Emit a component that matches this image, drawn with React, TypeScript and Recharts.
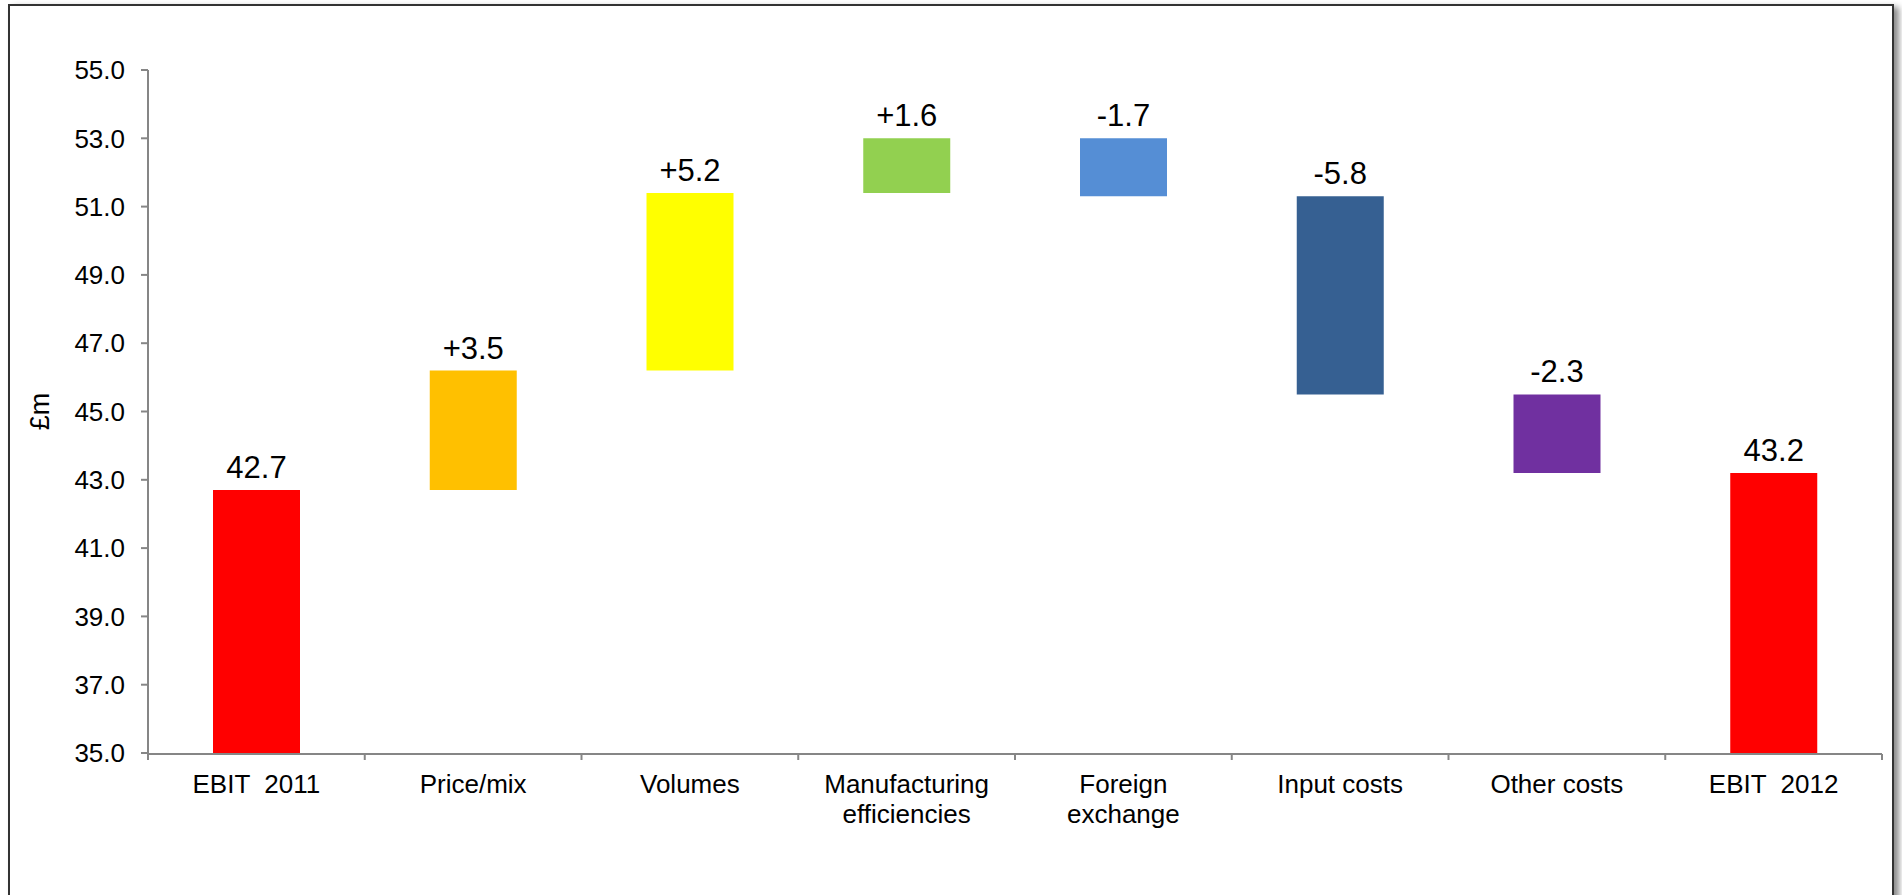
import React from "react";
import { BarChart, Bar, XAxis, YAxis, Cell, LabelList } from "recharts";

// EBIT bridge 2011 -> 2012, £m
const categories = [
  "EBIT  2011",
  "Price/mix",
  "Volumes",
  "Manufacturing\nefficiencies",
  "Foreign\nexchange",
  "Input costs",
  "Other costs",
  "EBIT  2012",
];
const changes = [42.7, 3.5, 5.2, 1.6, -1.7, -5.8, -2.3, 43.2];
const isTotal = [true, false, false, false, false, false, false, true];
const barColors = ["#FF0000", "#FFC000", "#FFFF00", "#92D050", "#558ED5", "#366092", "#7030A0", "#FF0000"];
const yTicks = [35, 37, 39, 41, 43, 45, 47, 49, 51, 53, 55];
const edgeTicks = [0, 1, 2, 3, 4, 5, 6, 7, 8];

const FONT = "Arial, 'Liberation Sans', sans-serif";
const AXIS_GREY = "#868686";

// running totals -> [low, high] range for every bar
let running = 0;
const data = categories.map((name, i) => {
  const v = changes[i];
  let range: [number, number];
  if (isTotal[i]) {
    range = [0, v];
    running = v;
  } else {
    const next = Math.round((running + v) * 10) / 10;
    range = [Math.min(running, next), Math.max(running, next)];
    running = next;
  }
  const label = isTotal[i] ? v.toFixed(1) : (v > 0 ? "+" : "") + v.toFixed(1);
  return { name, range, label, edge: i + 0.5 };
});

function CategoryTick(props: any) {
  const { x, y, payload } = props;
  const lines = String(payload.value).split("\n");
  return (
    <text x={x} y={y} textAnchor="middle" fontSize={26} fill="#000" fontFamily={FONT} style={{ whiteSpace: "pre" }}>
      {lines.map((l, i) => (
        <tspan key={i} x={x} y={y + 40 + i * 30}>
          {l}
        </tspan>
      ))}
    </text>
  );
}

function ValueLabel(props: any) {
  const { x, y, width, index } = props;
  return (
    <text x={x + width / 2} y={y - 12} textAnchor="middle" fontSize={31} fill="#000" fontFamily={FONT}>
      {data[index].label}
    </text>
  );
}

function UnitLabel(props: any) {
  const vb = props.viewBox;
  const cx = vb.x - 8;
  const cy = vb.y + vb.height / 2;
  return (
    <text
      x={cx}
      y={cy}
      transform={`rotate(-90 ${cx} ${cy})`}
      textAnchor="middle"
      dominantBaseline="central"
      fontSize={27}
      fill="#000"
      fontFamily={FONT}
    >
      £m
    </text>
  );
}

export default function App() {
  return (
    <div style={{ position: "absolute", left: 0, top: 0, width: 1902, height: 895, overflow: "hidden", background: "#fff" }}>
      <div
        style={{
          position: "absolute",
          left: 8,
          top: 4,
          width: 1882,
          height: 960,
          border: "2px solid #333",
          boxShadow: "5px 3px 6px rgba(0,0,0,0.45)",
          background: "#fff",
        }}
      />
      <div style={{ position: "absolute", left: 0, top: 0 }}>
        <BarChart width={1902} height={895} data={data} margin={{ top: 70, right: 20, bottom: 140, left: 48 }}>
          <XAxis
            xAxisId="edges"
            dataKey="edge"
            type="number"
            domain={[0, 8]}
            ticks={edgeTicks}
            interval={0}
            allowDataOverflow
            height={1}
            tickSize={6}
            tickFormatter={() => ""}
            stroke={AXIS_GREY}
            strokeWidth={2}
          />
          <XAxis
            dataKey="name"
            height={1}
            axisLine={false}
            tickLine={false}
            tickSize={0}
            tickMargin={0}
            interval={0}
            tick={<CategoryTick />}
          />
          <YAxis
            type="number"
            domain={[35, 55]}
            ticks={yTicks}
            interval={0}
            allowDataOverflow
            width={100}
            tickSize={7}
            tickMargin={16}
            stroke={AXIS_GREY}
            strokeWidth={2}
            tickFormatter={(v) => Number(v).toFixed(1)}
            tick={{ fontSize: 26, fill: "#000", fontFamily: FONT }}
            label={{ content: <UnitLabel /> }}
          />
          <Bar dataKey="range" barSize={87} isAnimationActive={false}>
            {data.map((d, i) => (
              <Cell key={d.name} fill={barColors[i]} />
            ))}
            <LabelList dataKey="label" content={<ValueLabel />} />
          </Bar>
        </BarChart>
      </div>
    </div>
  );
}
